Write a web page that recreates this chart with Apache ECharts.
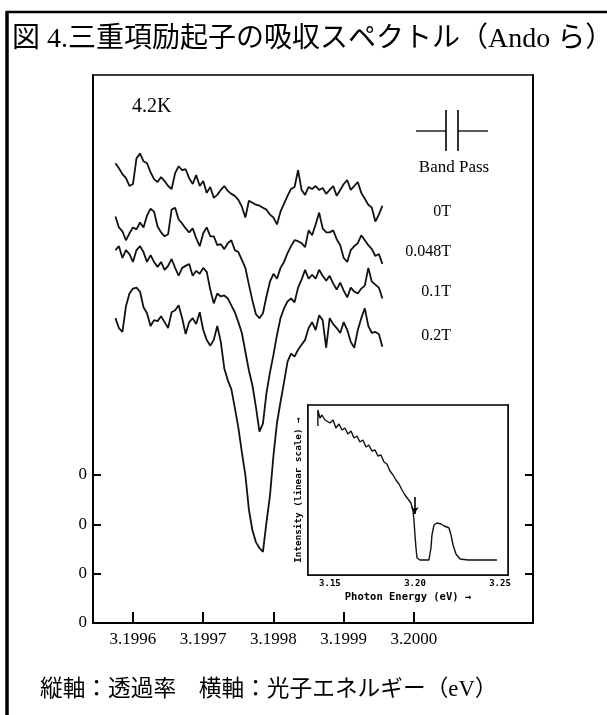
<!DOCTYPE html>
<html><head><meta charset="utf-8">
<script src="https://cdn.jsdelivr.net/npm/echarts@6/dist/echarts.min.js"></script>
<style>html,body{margin:0;padding:0;background:#fff}#c{width:607px;height:715px}</style>
</head><body><div id="c"></div>
<script>
// photon energy (eV) sampled along the spectra
const energy = [3.199575,3.19958,3.199585,3.19959,3.199595,3.1996,3.199605,3.19961,3.199615,3.19962,
3.199625,3.19963,3.199635,3.19964,3.199645,3.19965,3.199655,3.19966,3.199665,3.19967,
3.199675,3.19968,3.199685,3.19969,3.199695,3.1997,3.199705,3.19971,3.199715,3.19972,
3.199725,3.19973,3.199735,3.19974,3.199745,3.19975,3.199755,3.19976,3.199765,3.19977,
3.199775,3.19978,3.199785,3.19979,3.199795,3.1998,3.199805,3.19981,3.199815,3.19982,
3.199825,3.19983,3.199835,3.19984,3.199845,3.19985,3.199855,3.19986,3.199865,3.19987,
3.199875,3.19988,3.199885,3.19989,3.199895,3.1999,3.199905,3.19991,3.199915,3.19992,
3.199925,3.19993,3.199935,3.19994,3.199945,3.19995,3.199955];
// transmission (offset traces, arbitrary units)
const trace0T = [466,461,455,451,443,445,471,476,468,466,
457,450,447,452,448,443,440,456,463,459,
460,451,445,454,443,448,436,442,431,434,
439,443,438,435,433,429,422,411,428,426,
424,423,421,419,414,411,404,417,425,433,
440,442,459,439,434,442,440,443,439,441,
435,439,443,433,439,445,449,439,443,447,
436,430,424,421,407,414,423];
const trace0048T = [412,401,397,388,395,401,399,406,401,413,
420,417,402,396,392,394,419,421,409,405,
400,396,400,390,382,395,401,392,392,383,
384,379,385,388,378,376,368,360,343,327,
313,309,314,331,346,354,349,360,366,375,
382,388,387,385,381,398,393,404,416,400,
396,396,398,389,383,370,366,378,382,385,
393,388,383,379,372,374,364];
const trace01T = [378,382,370,378,374,366,378,382,376,366,
373,366,361,366,358,362,369,360,352,360,
362,364,352,357,354,360,356,338,324,334,
331,332,329,322,315,305,294,275,256,241,
219,194,202,233,254,272,292,309,319,326,
329,325,340,348,358,349,353,349,358,352,
347,352,344,338,345,337,330,340,336,334,
339,342,360,346,343,340,329];
const trace02T = [309,299,295,321,334,339,340,336,320,314,
301,307,306,311,305,299,315,317,322,309,
293,305,309,303,315,297,287,281,287,301,
285,258,246,237,218,198,173,150,115,94,
82,76,72,102,129,170,203,224,244,265,
273,270,277,282,287,299,305,297,312,307,
279,309,303,299,294,305,297,285,279,297,
309,319,301,294,295,293,280];
const fieldLabels = ['0T','0.048T','0.1T','0.2T'];
const xTicks = [3.1996,3.1997,3.1998,3.1999,3.2000];
const yTicks = [0,50,100,150];
const yTickLabels = ['0','0','0','0'];

// inset: wide-range spectrum
const insetE = [3.1429,3.1429,3.1441,3.1453,3.1471,3.1482,3.15,3.1518,3.1535,3.1553,3.1571,3.1588,3.1606,3.1624,3.1641,3.1659,3.1676,3.1694,3.1712,3.1729,3.1747,3.1765,3.1782,3.18,3.1818,3.1835,3.1853,3.1871,3.1888,3.1906,3.1924,3.1941,3.1959,3.1976,3.1988,3.1994,3.2,3.2006,3.2012,3.2029,3.2082,3.2094,3.21,3.2112,3.2129,3.2153,3.2171,3.2188,3.22,3.2212,3.2224,3.2241,3.2265,3.2312,3.2482];
const insetI = [13.7,15.3,14.5,14.8,14.3,14.5,14.0,14.3,13.5,13.9,13.3,13.5,12.9,13.2,12.5,12.7,12.1,12.3,11.6,11.8,11.2,11.3,10.7,10.8,10.1,9.9,9.2,8.8,8.3,7.9,7.3,6.8,6.4,6.0,5.3,4.3,2.8,1.5,0.5,0.3,0.3,1.5,2.8,3.8,4.0,3.9,3.7,3.6,3.5,2.8,1.8,0.9,0.4,0.3,0.3];
const insetTicks = [3.15,3.20,3.25];
const insetArrow = {e:3.1998, from:6.6, to:4.9};

const serif = "'Liberation Serif','Noto Sans CJK JP',serif";
const jp = "'Liberation Serif','Noto Sans CJK JP',sans-serif";
const mono = "'DejaVu Sans Mono',monospace";

function pairs(ys){ return energy.map((e,i)=>[e, ys[i]]); }
const traces = [trace0T, trace0048T, trace01T, trace02T];

const lineSeries = traces.map((t,k)=>({
  type:'line', xAxisIndex:0, yAxisIndex:0, data:pairs(t), symbol:'none',
  lineStyle:{color:'#111', width:1.8}, silent:true, name:fieldLabels[k]
}));

const chart = echarts.init(document.getElementById('c'), null, {renderer:'canvas'});
const option = {
  animation:false,
  backgroundColor:'#fff',
  grid:[
    {left:93, top:75, width:440, height:548, show:true, borderColor:'#000', borderWidth:1.5, backgroundColor:'transparent'},
    {left:308, top:405, width:200, height:170, show:true, borderColor:'#000', borderWidth:1.5, backgroundColor:'#fff', z:5}
  ],
  xAxis:[
    {type:'value', gridIndex:0, min:3.1995431, max:3.2001694,
     axisLine:{show:true, onZero:false, lineStyle:{color:'#000', width:2}},
     axisTick:{show:true, inside:true, length:11, lineStyle:{color:'#000', width:2}, customValues:xTicks},
     axisLabel:{show:true, customValues:xTicks, formatter:v=>v.toFixed(4), color:'#000', fontFamily:serif, fontSize:17, margin:8},
     splitLine:{show:false}},
    {type:'value', gridIndex:1, min:3.1371, max:3.2547,
     axisLine:{show:true, onZero:false, lineStyle:{color:'#000', width:1.5}},
     axisTick:{show:true, inside:true, length:5, lineStyle:{color:'#000', width:1.5}, customValues:insetTicks},
     axisLabel:{show:true, customValues:insetTicks, formatter:v=>v.toFixed(2), color:'#000', fontFamily:mono, fontWeight:'bold', fontSize:9, margin:4},
     splitLine:{show:false},
     name:'Photon Energy (eV) →', nameLocation:'middle', nameGap:17,
     nameTextStyle:{color:'#000', fontFamily:mono, fontWeight:'bold', fontSize:10.5}}
  ],
  yAxis:[
    {type:'value', gridIndex:0, min:0, max:555.5,
     axisLine:{show:true, onZero:false, lineStyle:{color:'#000', width:2}},
     axisTick:{show:true, inside:true, length:8, lineStyle:{color:'#000', width:2}, customValues:yTicks},
     axisLabel:{show:true, customValues:yTicks, formatter:v=>yTickLabels[yTicks.indexOf(v)], color:'#000', fontFamily:serif, fontSize:17, margin:6},
     splitLine:{show:false}},
    {type:'value', gridIndex:0, min:0, max:555.5, position:'right',
     axisLine:{show:true, onZero:false, lineStyle:{color:'#000', width:2}},
     axisTick:{show:true, inside:true, length:8, lineStyle:{color:'#000', width:2}, customValues:yTicks},
     axisLabel:{show:false}, splitLine:{show:false}},
    {type:'value', gridIndex:1, min:-1.2, max:15.8,
     axisLine:{show:true, onZero:false, lineStyle:{color:'#000', width:1.5}},
     axisTick:{show:true, inside:true, length:4, lineStyle:{color:'#000', width:1.5}, customValues:[0]},
     axisLabel:{show:false}, splitLine:{show:false},
     name:'Intensity (linear scale) →', nameLocation:'middle', nameGap:5, nameRotate:90,
     nameTextStyle:{color:'#000', fontFamily:mono, fontWeight:'bold', fontSize:9.3}},
    {type:'value', gridIndex:1, min:-1.2, max:15.8, position:'right',
     axisLine:{show:true, onZero:false, lineStyle:{color:'#000', width:1.5}},
     axisTick:{show:true, inside:true, length:4, lineStyle:{color:'#000', width:1.5}, customValues:[0]},
     axisLabel:{show:false}, splitLine:{show:false}}
  ],
  series: lineSeries.concat([{
    type:'line', xAxisIndex:1, yAxisIndex:2, data:insetE.map((e,i)=>[e, insetI[i]]),
    symbol:'none', lineStyle:{color:'#111', width:1.4}, silent:true, z:6,
    markLine:{silent:true, symbol:['none','arrow'], symbolSize:[6,7], label:{show:false},
      lineStyle:{color:'#000', width:1.6, type:'solid'},
      data:[[{coord:[insetArrow.e, insetArrow.from]},{coord:[insetArrow.e, insetArrow.to]}]]}
  }]),
  graphic:[
    {type:'line', shape:{x1:6, y1:12, x2:607, y2:12}, style:{stroke:'#000', lineWidth:2.5}},
    {type:'line', shape:{x1:7, y1:11, x2:7, y2:715}, style:{stroke:'#000', lineWidth:3.5}},
    {type:'text', x:12, y:40, style:{text:'図 4.三重項励起子の吸収スペクトル（Ando ら）', font:'28px '+jp, fill:'#000', textVerticalAlign:'middle', verticalAlign:'middle'}},
    {type:'text', x:40, y:690, style:{text:'縦軸：透過率　横軸：光子エネルギー（eV）', font:'22.7px '+jp, fill:'#000', textVerticalAlign:'middle', verticalAlign:'middle'}},
    {type:'text', x:132, y:107, style:{text:'4.2K', font:'20px '+serif, fill:'#000', textVerticalAlign:'middle', verticalAlign:'middle'}},
    {type:'line', shape:{x1:416, y1:131, x2:446, y2:131}, style:{stroke:'#000', lineWidth:1.3}},
    {type:'line', shape:{x1:458, y1:131, x2:488, y2:131}, style:{stroke:'#000', lineWidth:1.3}},
    {type:'line', shape:{x1:446, y1:110, x2:446, y2:151}, style:{stroke:'#000', lineWidth:1.6}},
    {type:'line', shape:{x1:458, y1:110, x2:458, y2:151}, style:{stroke:'#000', lineWidth:1.6}},
    {type:'text', x:454, y:168, style:{text:'Band Pass', font:'17px '+serif, fill:'#000', textAlign:'center', align:'center', textVerticalAlign:'middle', verticalAlign:'middle'}},
    {type:'text', x:451, y:212, style:{text:fieldLabels[0], font:'16px '+serif, fill:'#000', textAlign:'right', align:'right', textVerticalAlign:'middle', verticalAlign:'middle'}},
    {type:'text', x:451, y:252, style:{text:fieldLabels[1], font:'16px '+serif, fill:'#000', textAlign:'right', align:'right', textVerticalAlign:'middle', verticalAlign:'middle'}},
    {type:'text', x:451, y:292, style:{text:fieldLabels[2], font:'16px '+serif, fill:'#000', textAlign:'right', align:'right', textVerticalAlign:'middle', verticalAlign:'middle'}},
    {type:'text', x:451, y:336, style:{text:fieldLabels[3], font:'16px '+serif, fill:'#000', textAlign:'right', align:'right', textVerticalAlign:'middle', verticalAlign:'middle'}}
  ]
};
chart.setOption(option);
</script></body></html>
